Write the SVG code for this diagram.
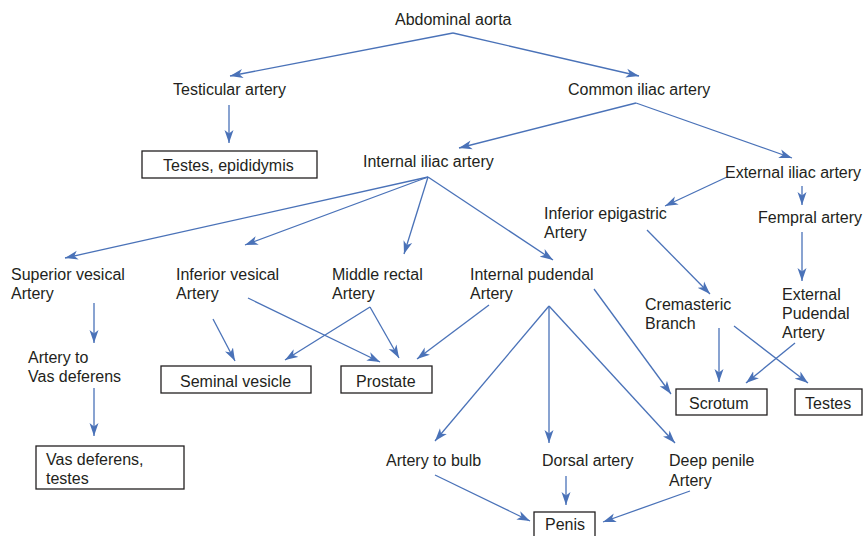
<svg xmlns="http://www.w3.org/2000/svg" width="864" height="536" viewBox="0 0 864 536">
<style>
text{font-family:"Liberation Sans",Arial,sans-serif;font-size:16px;fill:#231f20}
.box{fill:#fff;stroke:#231f20;stroke-width:1.3}
#connectors line{stroke:#4a72b8;stroke-width:1.3;fill:none;marker-end:url(#ah)}
</style>
<defs>
<marker id="ah" markerUnits="userSpaceOnUse" markerWidth="14" markerHeight="10" refX="13" refY="4.5" orient="auto" viewBox="0 0 14 9">
<path d="M0,0 L13,4.5 L0,9 L3.5,4.5 z" fill="#4a72b8"/>
</marker>
</defs>
<rect width="864" height="536" fill="#fff"/>
<g id="connectors">
<line x1="453" y1="33" x2="230" y2="76"/>
<line x1="453" y1="33" x2="639" y2="76"/>
<line x1="229" y1="105" x2="229" y2="143"/>
<line x1="636" y1="103" x2="459" y2="148"/>
<line x1="636" y1="103" x2="792" y2="158"/>
<line x1="727" y1="177" x2="665" y2="206"/>
<line x1="802" y1="186" x2="802" y2="205"/>
<line x1="802" y1="232" x2="802" y2="281"/>
<line x1="647" y1="230" x2="710" y2="294"/>
<line x1="719" y1="328" x2="719" y2="382"/>
<line x1="734" y1="326" x2="808" y2="383"/>
<line x1="795" y1="343" x2="746" y2="383"/>
<line x1="594" y1="289" x2="671" y2="394"/>
<line x1="549" y1="306" x2="435" y2="441"/>
<line x1="549" y1="306" x2="549" y2="443"/>
<line x1="549" y1="306" x2="675" y2="443"/>
<line x1="489" y1="305" x2="417" y2="359"/>
<line x1="435" y1="475" x2="530" y2="521"/>
<line x1="566" y1="476" x2="566" y2="505"/>
<line x1="690" y1="491" x2="603" y2="522"/>
<line x1="428" y1="177" x2="65" y2="258"/>
<line x1="428" y1="177" x2="245" y2="245"/>
<line x1="428" y1="177" x2="404" y2="254"/>
<line x1="428" y1="177" x2="553" y2="260"/>
<line x1="94" y1="303" x2="94" y2="343"/>
<line x1="94" y1="388" x2="94" y2="436"/>
<line x1="213" y1="319" x2="235" y2="361"/>
<line x1="248" y1="298" x2="380" y2="362"/>
<line x1="370" y1="307" x2="285" y2="360"/>
<line x1="370" y1="307" x2="399" y2="358"/>
</g>
<g id="abdominal-aorta"><text x="395" y="25">Abdominal aorta</text></g>
<g id="testicular-artery"><text x="173" y="95">Testicular artery</text></g>
<g id="testes-epididymis"><rect class="box" x="142" y="151" width="175" height="27"/><text x="163" y="171">Testes, epididymis</text></g>
<g id="common-iliac"><text x="568" y="95">Common iliac artery</text></g>
<g id="internal-iliac"><text x="363" y="167">Internal iliac artery</text></g>
<g id="external-iliac"><text x="725" y="178">External iliac artery</text></g>
<g id="inferior-epigastric"><text x="544" y="219">Inferior epigastric</text><text x="544" y="238">Artery</text></g>
<g id="fempral-artery"><text x="758" y="223">Fempral artery</text></g>
<g id="superior-vesical"><text x="11" y="280">Superior vesical</text><text x="11" y="299">Artery</text></g>
<g id="inferior-vesical"><text x="176" y="280">Inferior vesical</text><text x="176" y="299">Artery</text></g>
<g id="middle-rectal"><text x="332" y="280">Middle rectal</text><text x="332" y="299">Artery</text></g>
<g id="internal-pudendal"><text x="470" y="280">Internal pudendal</text><text x="470" y="299">Artery</text></g>
<g id="cremasteric"><text x="645" y="310">Cremasteric</text><text x="645" y="329">Branch</text></g>
<g id="external-pudendal"><text x="782" y="300">External</text><text x="782" y="319">Pudendal</text><text x="782" y="338">Artery</text></g>
<g id="artery-vas"><text x="28" y="363">Artery to</text><text x="28" y="382">Vas deferens</text></g>
<g id="seminal-vesicle"><rect class="box" x="161" y="366" width="150" height="27"/><text x="180" y="387">Seminal vesicle</text></g>
<g id="prostate"><rect class="box" x="341" y="366" width="91" height="27"/><text x="356" y="387">Prostate</text></g>
<g id="scrotum"><rect class="box" x="676" y="389" width="91" height="26"/><text x="689" y="409">Scrotum</text></g>
<g id="testes"><rect class="box" x="795" y="389" width="67" height="26"/><text x="805" y="409">Testes</text></g>
<g id="vas-deferens-testes"><rect class="box" x="36" y="446" width="148" height="43"/><text x="46" y="465">Vas deferens,</text><text x="46" y="484">testes</text></g>
<g id="artery-bulb"><text x="386" y="466">Artery to bulb</text></g>
<g id="dorsal-artery"><text x="542" y="466">Dorsal artery</text></g>
<g id="deep-penile"><text x="669" y="466">Deep penile</text><text x="669" y="486">Artery</text></g>
<g id="penis"><rect class="box" x="534" y="512" width="61" height="30"/><text x="545" y="530">Penis</text></g>
</svg>
